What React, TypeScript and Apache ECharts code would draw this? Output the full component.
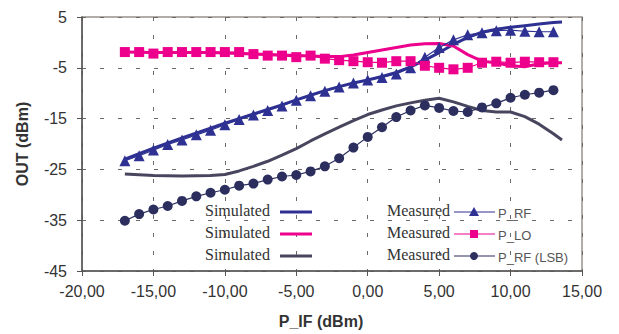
import React, { useEffect, useRef } from "react";
import * as echarts from "echarts";

// ---------- data ----------
const measuredX = [-17, -16, -15, -14, -13, -12, -11, -10, -9, -8, -7, -6, -5, -4, -3, -2, -1, 0, 1, 2, 3, 4, 5, 6, 7, 8, 9, 10, 11, 12, 13];
const measuredRF = [-23.3, -22.3, -21.2, -20.1, -19.2, -18.2, -17.3, -16.2, -15.2, -14.3, -13.4, -12.5, -11.4, -10.5, -9.6, -8.8, -8.0, -7.4, -6.9, -6.2, -5.0, -2.9, -1.0, 0.5, 1.5, 1.9, 2.3, 2.4, 2.2, 2.1, 2.1];
const measuredLO = [-1.9, -1.9, -2.2, -1.9, -1.9, -1.9, -1.9, -1.9, -1.9, -2.3, -2.6, -2.6, -2.9, -2.6, -3.2, -3.5, -3.7, -3.9, -4.0, -3.7, -3.7, -4.6, -5.0, -5.3, -5.0, -4.0, -3.8, -4.0, -3.8, -3.9, -3.9];
const measuredLSB = [-35.1, -33.8, -32.9, -32.2, -31.2, -30.3, -29.6, -29.0, -28.2, -27.8, -27.0, -26.4, -26.1, -25.4, -24.4, -22.8, -20.7, -18.6, -16.7, -14.7, -13.4, -12.4, -12.9, -13.5, -13.7, -12.8, -12.0, -10.9, -10.3, -9.9, -9.4];

const simX = [-17, -15, -13, -11, -10, -9, -8, -7, -6, -5, -4, -3, -2, -1, 0, 1, 2, 3, 4, 5, 6, 7, 8, 9, 10, 11, 12, 13, 13.6];
const simRF = [-23.0, -20.8, -18.8, -16.9, -15.9, -15.0, -14.1, -13.2, -12.3, -11.3, -10.4, -9.5, -8.7, -8.0, -7.4, -6.7, -5.9, -4.8, -3.5, -2.0, -0.4, 1.0, 2.0, 2.6, 3.0, 3.3, 3.6, 3.9, 4.0];
const simLO = [-1.9, -2.0, -2.0, -2.0, -2.1, -2.2, -2.3, -2.4, -2.5, -2.6, -2.7, -2.8, -2.8, -2.5, -2.0, -1.5, -1.0, -0.5, -0.25, -0.2, -0.7, -2.4, -3.7, -4.0, -4.6, -4.8, -4.2, -4.0, -4.0];
const simLSB = [-25.9, -26.2, -26.3, -26.2, -26.0, -25.3, -24.4, -23.4, -22.2, -20.9, -19.4, -18.0, -16.7, -15.4, -14.2, -13.3, -12.5, -11.9, -11.4, -11.0, -11.7, -12.6, -13.4, -13.7, -13.7, -14.6, -16.1, -18.0, -19.2];

const seriesNames = ["P_RF", "P_LO", "P_RF (LSB)"];
const xTitle = "P_IF (dBm)";
const yTitle = "OUT (dBm)";

// ---------- style ----------
const BLUE = "#2e3192";
const PINK = "#ec008c";
const LSB_LINE = "#48465f";
const LSB_MARK = "#2c2f5e";

const pair = (xs: number[], ys: number[]) => xs.map((x, i) => [x, ys[i]]);

export default function App() {
  const ref = useRef<HTMLDivElement>(null);
  useEffect(() => {
    if (!ref.current) return;
    const chart = echarts.init(ref.current, null, { renderer: "svg" });

    const rows = [
      { y: 211, simColor: BLUE, measColor: BLUE, marker: "triangle", label: seriesNames[0] },
      { y: 233, simColor: PINK, measColor: PINK, marker: "rect", label: seriesNames[1] },
      { y: 255, simColor: LSB_LINE, measColor: LSB_MARK, marker: "circle", label: seriesNames[2] },
    ];
    const legendEls: any[] = [];
    rows.forEach((r) => {
      legendEls.push({
        type: "text", x: 205, y: r.y - 1, z: 100,
        style: { text: "Simulated", fontSize: 16, fontFamily: "Liberation Serif, Times New Roman, serif", fill: "#333", verticalAlign: "middle", align: "left" },
      });
      legendEls.push({
        type: "line", z: 100,
        shape: { x1: 280, y1: r.y + 1, x2: 312, y2: r.y + 1 },
        style: { stroke: r.simColor, lineWidth: 3 },
      });
      legendEls.push({
        type: "text", x: 387, y: r.y - 1, z: 100,
        style: { text: "Measured", fontSize: 16, fontFamily: "Liberation Serif, Times New Roman, serif", fill: "#333", verticalAlign: "middle", align: "left" },
      });
      legendEls.push({
        type: "line", z: 100,
        shape: { x1: 454, y1: r.y + 1, x2: 495, y2: r.y + 1 },
        style: { stroke: r.measColor, lineWidth: 1.2 },
      });
      const cy = r.y + 1;
      if (r.marker === "triangle") {
        legendEls.push({ type: "polygon", z: 101, shape: { points: [[474, cy - 5], [479, cy + 4], [469, cy + 4]] }, style: { fill: r.measColor } });
      } else if (r.marker === "rect") {
        legendEls.push({ type: "rect", z: 101, shape: { x: 470, y: cy - 4, width: 8, height: 8 }, style: { fill: r.measColor } });
      } else {
        legendEls.push({ type: "circle", z: 101, shape: { cx: 474, cy, r: 4 }, style: { fill: r.measColor } });
      }
      legendEls.push({
        type: "text", x: 498, y: r.y + 2, z: 100,
        style: { text: r.label, fontSize: 13, fontFamily: "Liberation Sans, Arial, sans-serif", fill: "#555", verticalAlign: "middle", align: "left" },
      });
    });

    const simLine = (name: string, ys: number[], color: string) => ({
      name, type: "line", data: pair(simX, ys), symbol: "none", showSymbol: false,
      lineStyle: { color, width: 3 }, itemStyle: { color }, z: 2,
    });
    const measLine = (name: string, ys: number[], color: string, symbol: string, size: number) => ({
      name, type: "line", data: pair(measuredX, ys), symbol, symbolSize: size, showSymbol: true,
      lineStyle: { color, width: 1.2 }, itemStyle: { color }, z: 3,
    });

    const axisFont = { fontSize: 16, fontFamily: "Liberation Sans, Arial, sans-serif", color: "#333" };
    const gridLine = { show: true, lineStyle: { color: "#6a6a6a", width: 1, type: [4, 14] as any } };

    chart.setOption({
      animation: false,
      backgroundColor: "#fff",
      grid: { left: 82, right: 37, top: 17, bottom: 60, show: true, borderColor: "#9b938e", borderWidth: 1.5, backgroundColor: "transparent" },
      xAxis: {
        type: "value", min: -20, max: 15, interval: 5,
        axisLine: { show: true, onZero: false, lineStyle: { color: "#555", width: 1.5 } },
        axisTick: { show: true, length: 5, lineStyle: { color: "#555" } },
        axisLabel: { ...axisFont, margin: 12, formatter: (v: number) => v.toFixed(2).replace(".", ",") },
        splitLine: gridLine,
        name: xTitle, nameLocation: "middle", nameGap: 42,
        nameTextStyle: { fontSize: 16, fontWeight: "bold", fontFamily: "Liberation Sans, Arial, sans-serif", color: "#333", padding: [0, 22, 0, 0] },
      },
      yAxis: {
        type: "value", min: -45, max: 5, interval: 10,
        axisLine: { show: true, onZero: false, lineStyle: { color: "#555", width: 1.5 } },
        axisTick: { show: true, length: 5, lineStyle: { color: "#555" } },
        axisLabel: { ...axisFont, margin: 15 },
        splitLine: gridLine,
        name: yTitle, nameLocation: "middle", nameGap: 52,
        nameTextStyle: { fontSize: 16, fontWeight: "bold", fontFamily: "Liberation Sans, Arial, sans-serif", color: "#333" },
      },
      series: [
        simLine("Simulated " + seriesNames[0], simRF, BLUE),
        simLine("Simulated " + seriesNames[1], simLO, PINK),
        simLine("Simulated " + seriesNames[2], simLSB, LSB_LINE),
        measLine("Measured " + seriesNames[0], measuredRF, BLUE, "triangle", 11),
        measLine("Measured " + seriesNames[1], measuredLO, PINK, "rect", 10),
        measLine("Measured " + seriesNames[2], measuredLSB, LSB_MARK, "circle", 10),
      ],
      graphic: legendEls,
    });
    return () => chart.dispose();
  }, []);
  return (
    <div style={{ position: "fixed", left: 0, top: 0, width: 619, height: 334, background: "#fff" }}>
      <div ref={ref} style={{ width: 619, height: 334 }} />
    </div>
  );
}
